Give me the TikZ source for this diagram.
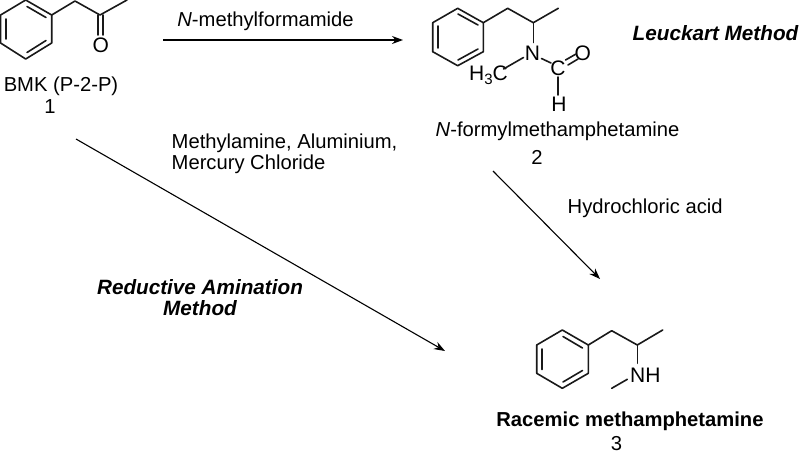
\documentclass[tikz,border=0pt]{standalone}
\usepackage{fontspec}
\setmainfont{Liberation Sans}
\usetikzlibrary{arrows.meta}
\tikzset{
  x=1pt,y=-1pt,
  bond/.style={line width=1.6pt,line cap=round,line join=round,draw=black!90},
  rx/.style={line width=1.1pt,draw=black,-{Stealth[length=11pt,width=8pt]}},
  lab/.style={inner sep=0pt,font=\fontsize{20.2}{22}\selectfont,text=black},
  tit/.style={inner sep=0pt,font=\fontsize{20.7}{22}\selectfont\bfseries\itshape,text=black},
  atom/.style={inner sep=0pt,font=\fontsize{21}{22}\selectfont,text=black}
}
\begin{document}
\begin{tikzpicture}
\useasboundingbox (0,0) rectangle (800,453);
\fill[white] (0,0) rectangle (800,453);
% molecule 1
\coordinate (a1) at (25.7,0);\coordinate (a2) at (51.7,15);\coordinate (a3) at (51.7,43);
\coordinate (a4) at (25.7,59);\coordinate (a5) at (0.6,43);\coordinate (a6) at (0.6,15);
\coordinate (a7) at (75,1);\coordinate (a8) at (100,15);\coordinate (a9) at (127,0);
\draw[bond] (a1)--(a2)--(a3)--(a4)--(a5)--(a6)--cycle;
\draw[bond] (a2)--(a7)--(a8)--(a9);
\draw[bond] (46,17.5)--(27,6.5) (46,40.5)--(27,52.5) (6,19)--(6,39);
\draw[bond] (98,15)--(98,35) (103,15)--(103,35);
\node[atom] (o1) at (100.7,45) {O};
\node[lab] (n1) at (61,86) {BMK (P-2-P)};
\node[lab] (k1) at (50,107) {1};
% molecule 2
\coordinate (b1) at (457.7,8.3);\coordinate (b2) at (483.3,22.7);\coordinate (b3) at (483.3,51.7);
\coordinate (b4) at (457.7,65.7);\coordinate (b5) at (432.7,51.7);\coordinate (b6) at (432.7,22.7);
\coordinate (b7) at (507.7,8.3);\coordinate (b8) at (533.3,22.7);\coordinate (b9) at (558.3,8.3);
\draw[bond] (b1)--(b2)--(b3)--(b4)--(b5)--(b6)--cycle;
\draw[bond] (b2)--(b7)--(b8)--(b9);
\draw[bond] (478,25)--(458,14) (478,49)--(458,60) (438,26)--(438,48);
\node[atom] (nb) at (532.5,53.5) {N};
\node[atom] (cb) at (558,68) {C};
\node[atom] (ob) at (582.7,53.5) {O};
\node[atom] (hb) at (559,104) {H};
\node[atom,anchor=base east] (mb) at (508,80.5) {H\raisebox{-4pt}{\fontsize{15}{16}\selectfont 3}C};
\draw[bond] (b8)--(533.3,42.5);
\draw[bond] (541.5,58.5)--(551,63);
\draw[bond] (565.5,60)--(576,54) (568,65)--(578,59);
\draw[bond] (557.7,77)--(557.7,95);
\draw[bond] (523.5,57.5)--(503.5,69);
\node[lab] (r1a) at (265.5,21.5) {\textit{N}-methylformamide};
\node[tit] (t1) at (715.5,33) {Leuckart Method};
\node[lab] (n2) at (557.5,131) {\textit{N}-formylmethamphetamine};
\node[lab] (k2) at (537,157) {2};
\node[lab,anchor=west] (r2a) at (171.5,143) {Methylamine, Aluminium,};
\node[lab,anchor=west] (r2b) at (171.5,164.5) {Mercury Chloride};
\node[lab,anchor=west] (r3) at (567.5,208) {Hydrochloric acid};
\node[tit] (t2) at (200,287) {Reductive Amination};
\node[tit] (t3) at (200,308.5) {Method};
% molecule 3
\coordinate (c1) at (562.3,330);\coordinate (c2) at (588.3,345);\coordinate (c3) at (588.3,373.3);
\coordinate (c4) at (562.3,388.3);\coordinate (c5) at (536.7,373.3);\coordinate (c6) at (536.7,345);
\coordinate (c7) at (611.7,330.7);\coordinate (c8) at (637.3,345);\coordinate (c9) at (662.7,330);
\coordinate (c10) at (611.7,388.3);
\draw[bond] (c1)--(c2)--(c3)--(c4)--(c5)--(c6)--cycle;
\draw[bond] (c2)--(c7)--(c8)--(c9);
\draw[bond] (582.5,348)--(563,336.5) (582.5,370.5)--(563,382) (542,349)--(542,369.5);
\node[atom,anchor=west] (nc) at (630,375) {NH};
\draw[bond] (c8)--(637.3,363.3);
\draw[bond] (627.3,379.3)--(c10);
\node[lab,font=\fontsize{20.2}{22}\selectfont\bfseries] (n3) at (630,421) {Racemic methamphetamine};
\node[lab] (k3) at (616.5,443.5) {3};
% arrows
\coordinate (p1) at (163,40);\coordinate (p2) at (403,40);
\coordinate (p3) at (76,139);\coordinate (p4) at (445,351);
\coordinate (p5) at (493,171);\coordinate (p6) at (600,279);
\draw[rx] (p1)--(p2);
\draw[rx] (p3)--(p4);
\draw[rx] (p5)--(p6);
\end{tikzpicture}
\end{document}
